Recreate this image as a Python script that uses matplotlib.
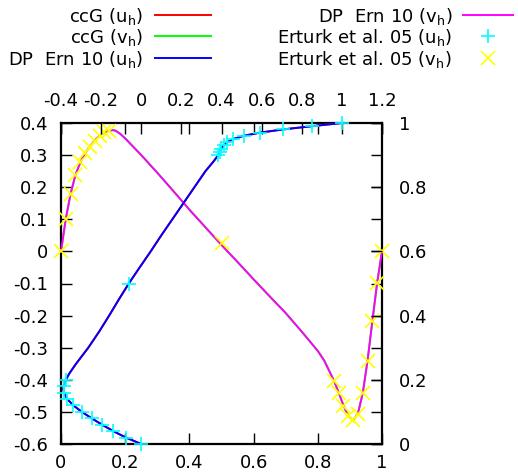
import matplotlib
matplotlib.use("Agg")
import matplotlib.pyplot as plt
from matplotlib.lines import Line2D

plt.rcParams['font.family'] = ['DejaVu Sans']
plt.rcParams['mathtext.default'] = 'regular'

# ---- data ----
# u_h along vertical centerline: position y (right axis), velocity u (top axis)
sim_y = [0.0, 0.02, 0.04, 0.06, 0.08, 0.10, 0.12, 0.14, 0.16, 0.17, 0.18, 0.20,
         0.22, 0.25, 0.30, 0.35, 0.40, 0.45, 0.50, 0.55, 0.60, 0.65, 0.70, 0.75,
         0.80, 0.85, 0.88, 0.90, 0.91, 0.92, 0.93, 0.94, 0.95, 0.96, 0.97, 0.98,
         0.99, 1.0]
sim_u = [0.0, -0.076, -0.139, -0.195, -0.247, -0.296, -0.338, -0.369, -0.385, -0.388,
         -0.387, -0.376, -0.358, -0.325, -0.264, -0.210, -0.160, -0.112, -0.062,
         -0.008, 0.047, 0.100, 0.155, 0.210, 0.265, 0.320, 0.360, 0.384, 0.391,
         0.399, 0.410, 0.428, 0.458, 0.510, 0.592, 0.707, 0.849, 1.0]

# v_h along horizontal centerline: position x (bottom axis), velocity v (left axis)
sim_x = [0.0, 0.015, 0.03, 0.045, 0.06, 0.075, 0.09, 0.105, 0.12, 0.135, 0.15, 0.16,
         0.17, 0.185, 0.20, 0.25, 0.30, 0.35, 0.40, 0.45, 0.50, 0.55, 0.60, 0.65, 0.70,
         0.75, 0.80, 0.82, 0.85, 0.865, 0.88, 0.895, 0.91, 0.925, 0.94, 0.955,
         0.97, 0.985, 1.0]
sim_v = [0.0, 0.102, 0.180, 0.238, 0.277, 0.306, 0.327, 0.345, 0.360, 0.371, 0.376,
         0.378, 0.376, 0.366, 0.352, 0.300, 0.245, 0.188, 0.130, 0.075, 0.020, -0.033,
         -0.087, -0.140, -0.192, -0.250, -0.310, -0.340, -0.402, -0.440, -0.480,
         -0.513, -0.526, -0.505, -0.442, -0.340, -0.217, -0.097, 0.0]

# Erturk et al. 2005 reference data
ert_y = [0.0, 0.02, 0.04, 0.06, 0.08, 0.10, 0.12, 0.14, 0.16, 0.18, 0.20, 0.50,
         0.90, 0.91, 0.92, 0.93, 0.94, 0.95, 0.96, 0.97, 0.98, 0.99, 1.0]
ert_u = [0.0, -0.0757, -0.1392, -0.1951, -0.2472, -0.2960, -0.3381, -0.3690,
         -0.3854, -0.3869, -0.3756, -0.0620, 0.3838, 0.3913, 0.3993, 0.4101,
         0.4276, 0.4582, 0.5102, 0.5917, 0.7065, 0.8486, 1.0]
ert_x = [0.0, 0.015, 0.030, 0.045, 0.060, 0.075, 0.090, 0.105, 0.120, 0.135, 0.150,
         0.500, 0.850, 0.865, 0.880, 0.895, 0.910, 0.925, 0.940, 0.955, 0.970,
         0.985, 1.0]
ert_v = [0.0, 0.1019, 0.1792, 0.2380, 0.2770, 0.3060, 0.3264, 0.3450, 0.3600,
         0.3705, 0.3756, 0.0258, -0.4028, -0.4407, -0.4803, -0.5132, -0.5263,
         -0.5052, -0.4417, -0.3400, -0.2169, -0.0973, 0.0]

bottom_ticks = [0, 0.2, 0.4, 0.6, 0.8, 1]
left_ticks = [-0.6, -0.5, -0.4, -0.3, -0.2, -0.1, 0, 0.1, 0.2, 0.3, 0.4]
top_ticks = [-0.4, -0.2, 0, 0.2, 0.4, 0.6, 0.8, 1, 1.2]
right_ticks = [0, 0.2, 0.4, 0.6, 0.8, 1]

labels = ['ccG (u$_{h}$)', 'ccG (v$_{h}$)', 'DP  Ern 10 (u$_{h}$)',
          'DP  Ern 10 (v$_{h}$)', 'Erturk et al. 05 (u$_{h}$)', 'Erturk et al. 05 (v$_{h}$)']
colors = ['#ff0000', '#00ff00', '#0000ff', '#ff00ff', '#00ffff', '#ffff00']

W, H = 518, 474
fig = plt.figure(figsize=(W / 100, H / 100), dpi=100)
rect = [61 / W, 1 - 444 / H, 321 / W, 321 / H]
ax = fig.add_axes(rect)
ax2 = fig.add_axes(rect, frameon=False)

fs = 13
ax.set_xlim(0, 1)
ax.set_ylim(-0.6, 0.4)
ax2.set_xlim(-0.4, 1.2)
ax2.set_ylim(0, 1)

ax.set_xticks(bottom_ticks)
ax.set_xticklabels(['0', '0.2', '0.4', '0.6', '0.8', '1'])
ax.set_yticks(left_ticks)
ax.set_yticklabels(['-0.6', '-0.5', '-0.4', '-0.3', '-0.2', '-0.1', '0', '0.1', '0.2', '0.3', '0.4'])
ax.tick_params(direction='in', length=8, width=1, labelsize=fs,
               top=True, right=True, labeltop=False, labelright=False)
ax.tick_params(axis='x', pad=7)
ax.tick_params(axis='y', pad=9)

ax2.xaxis.tick_top()
ax2.yaxis.tick_right()
ax2.set_xticks(top_ticks)
ax2.set_xticklabels(['-0.4', '-0.2', '0', '0.2', '0.4', '0.6', '0.8', '1', '1.2'])
ax2.set_yticks(right_ticks)
ax2.set_yticklabels(['0', '0.2', '0.4', '0.6', '0.8', '1'])
ax2.tick_params(direction='in', length=8, width=1, labelsize=fs,
                bottom=False, left=False, labelbottom=False, labelleft=False)
ax2.tick_params(axis='x', pad=9)
ax2.tick_params(axis='y', pad=12)

for s in ax.spines.values():
    s.set_linewidth(1.6)

lw = 1.4
ax2.plot(sim_u, sim_y, color=colors[0], lw=lw, zorder=2)
ax.plot(sim_x, sim_v, color=colors[1], lw=lw, zorder=2)
ax2.plot(sim_u, sim_y, color=colors[2], lw=lw, zorder=3)
ax.plot(sim_x, sim_v, color=colors[3], lw=lw, zorder=3)
ax2.plot(ert_u, ert_y, linestyle='none', marker='+', color=colors[4], ms=10, mew=1.2, zorder=4)
ax.plot(ert_x, ert_v, linestyle='none', marker='x', color=colors[5], ms=10, mew=1.2, zorder=4)
ax2.set_zorder(ax.get_zorder() + 1)
for a in (ax, ax2):
    for c in a.lines:
        c.set_clip_on(False)

# legend (gnuplot style: text then sample)
rows = [15, 36.3, 57.7]
cols = [(143, 155, 211), (452, 463, 513)]
for i, lab in enumerate(labels):
    c = i // 3
    r = i % 3
    tx, l0, l1 = cols[c]
    yy = 1 - rows[r] / H
    fig.text(tx / W, 1 - (rows[r] + 7) / H, lab, ha='right', va='baseline', fontsize=fs)
    if i < 4:
        fig.add_artist(Line2D([l0 / W, l1 / W], [yy, yy], color=colors[i], lw=lw))
    else:
        mk = '+' if i == 4 else 'x'
        fig.add_artist(Line2D([(l0 + l1) / 2 / W], [yy], color=colors[i], marker=mk,
                              ms=10, mew=1.2, linestyle='none'))

fig.savefig('out.png', dpi=100)
